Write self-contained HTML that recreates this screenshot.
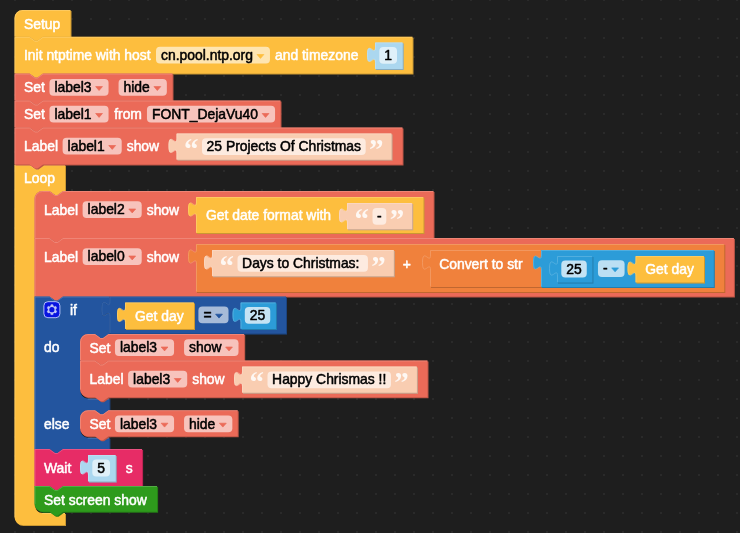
<!DOCTYPE html>
<html><head><meta charset="utf-8"><title>Blocks</title>
<style>
html,body{margin:0;padding:0;background:#1e1e1e;}
body{width:740px;height:533px;overflow:hidden;}
svg{display:block;filter:blur(0.4px);}
svg text{font-family:"Liberation Sans",sans-serif;font-size:13.9px;stroke-width:0.5px;stroke-linejoin:round;}
svg text.w{fill:#fff;stroke:#fff;}
svg text.k{fill:#000;stroke:#000;stroke-width:0.5px;}
svg text.q{font-family:"Liberation Serif",serif;font-weight:bold;font-size:29px;fill:#fff;fill-opacity:0.85;stroke:none;}
</style></head><body>
<svg width="740" height="533" viewBox="0 0 740 533">
<defs><pattern id="grid" width="19" height="19" patternUnits="userSpaceOnUse" x="5" y="-10"><rect x="9.2" y="9.2" width="1.6" height="1.6" fill="#303030"/></pattern></defs>
<rect width="740" height="533" fill="#1e1e1e"/>
<rect width="740" height="533" fill="url(#grid)"/>
<path d="M 14.5,164.5 H 29.5 l 5.5,4 2.5,0 5.5,-4 H 65 V 191 H 63 l -5.5,4 -2.5,0 -5.5,-4 H 42.5 a 8,8 0 0,0 -8,8 V 505 a 8,8 0 0,0 8,8 H 65 V 525 H 22.5 A 8,8 0 0,1 14.5,517 z" fill="#ca9832" transform="translate(1,1)"/>
<path d="M 14.5,164.5 H 29.5 l 5.5,4 2.5,0 5.5,-4 H 65 V 191 H 63 l -5.5,4 -2.5,0 -5.5,-4 H 42.5 a 8,8 0 0,0 -8,8 V 505 a 8,8 0 0,0 8,8 H 65 V 525 H 22.5 A 8,8 0 0,1 14.5,517 z" fill="#fdbe3e"/>
<path d="M 15,517 V 165 H 29.5 l 5.5,4 2.5,0 5.5,-4 H 64.5 M 42.5,513.5 H 64.5" fill="none" stroke="#fed278" stroke-opacity="0.6" stroke-width="1" stroke-linecap="round"/>
<text class="w" x="24" y="183">Loop</text>
<path d="M 14.5,18 A 8,8 0 0,1 22.5,10 H 70.5 V 36.8 H 43 l -5.5,4 -2.5,0 -5.5,-4 H 14.5 z" fill="#ca9832" transform="translate(1,1)"/>
<path d="M 14.5,18 A 8,8 0 0,1 22.5,10 H 70.5 V 36.8 H 43 l -5.5,4 -2.5,0 -5.5,-4 H 14.5 z" fill="#fdbe3e"/>
<path d="M 15,36.3 V 18 A 7.5,7.5 0 0,1 22.5,10.5 H 70" fill="none" stroke="#fed278" stroke-opacity="0.6" stroke-width="1" stroke-linecap="round"/>
<text class="w" x="24" y="28.5">Setup</text>
<path d="M 14.5,36.8 H 29.5 l 5.5,4 2.5,0 5.5,-4 H 412.5 V 73.6 H 43 l -5.5,4 -2.5,0 -5.5,-4 H 14.5 z" fill="#ca9832" transform="translate(1,1)"/>
<path d="M 14.5,36.8 H 29.5 l 5.5,4 2.5,0 5.5,-4 H 412.5 V 73.6 H 43 l -5.5,4 -2.5,0 -5.5,-4 H 14.5 z" fill="#fdbe3e"/>
<path d="M 15,73.1 V 37.3 H 29.5 l 5.5,4 2.5,0 5.5,-4 H 412" fill="none" stroke="#fed278" stroke-opacity="0.6" stroke-width="1" stroke-linecap="round"/>
<text class="w" x="24" y="60">Init ntptime with host</text>
<rect x="156" y="46.8" width="113.96" height="16.8" rx="4" ry="4" fill="#fff" fill-opacity="0.6"/>
<text class="k" x="161" y="59.8">cn.pool.ntp.org</text>
<path d="M 257.06,54.5 h 6.8 l -3.4,3.9 z" fill="#fdbe3e" stroke="#fdbe3e" stroke-width="0.7" stroke-linejoin="round"/>
<text class="w" x="274.96" y="60">and timezone</text>
<rect x="376" y="43.4" width="27.73" height="26.6" fill="#89acbf"/>
<path d="M 375,42.4 H 402.73 V 69 H 375 V 62.4 c 0,-10 -8,8 -8,-7.5 s 8,2.5 8,-7.5 z" fill="#abd7ef"/>
<path d="M 375.5,68.5 V 62.4 c 0,-10 -8,8 -8,-7.5 s 8,2.5 8,-7.5 V 42.9 H 402.23" fill="none" stroke="#c4e3f4" stroke-opacity="0.6" stroke-width="1"/>
<rect x="379.3" y="47" width="17.73" height="16.8" rx="4" ry="4" fill="#fff" fill-opacity="0.62"/>
<text class="k" x="384.3" y="60" style="white-space:pre">1</text>
<path d="M 14.5,73.6 H 29.5 l 5.5,4 2.5,0 5.5,-4 H 172.5 V 100.5 H 43 l -5.5,4 -2.5,0 -5.5,-4 H 14.5 z" fill="#bc5546" transform="translate(1,1)"/>
<path d="M 14.5,73.6 H 29.5 l 5.5,4 2.5,0 5.5,-4 H 172.5 V 100.5 H 43 l -5.5,4 -2.5,0 -5.5,-4 H 14.5 z" fill="#eb6a58"/>
<path d="M 15,100 V 74.1 H 29.5 l 5.5,4 2.5,0 5.5,-4 H 172" fill="none" stroke="#f1978a" stroke-opacity="0.6" stroke-width="1" stroke-linecap="round"/>
<text class="w" x="24" y="92.1">Set</text>
<rect x="49.46" y="78.9" width="59.1" height="16.8" rx="4" ry="4" fill="#fff" fill-opacity="0.6"/>
<text class="k" x="54.46" y="91.9">label3</text>
<path d="M 95.66,86.6 h 6.8 l -3.4,3.9 z" fill="#eb6a58" stroke="#eb6a58" stroke-width="0.7" stroke-linejoin="round"/>
<rect x="118.56" y="78.9" width="48.28" height="16.8" rx="4" ry="4" fill="#fff" fill-opacity="0.6"/>
<text class="k" x="123.56" y="91.9">hide</text>
<path d="M 153.94,86.6 h 6.8 l -3.4,3.9 z" fill="#eb6a58" stroke="#eb6a58" stroke-width="0.7" stroke-linejoin="round"/>
<path d="M 14.5,100.5 H 29.5 l 5.5,4 2.5,0 5.5,-4 H 280.5 V 127.5 H 43 l -5.5,4 -2.5,0 -5.5,-4 H 14.5 z" fill="#bc5546" transform="translate(1,1)"/>
<path d="M 14.5,100.5 H 29.5 l 5.5,4 2.5,0 5.5,-4 H 280.5 V 127.5 H 43 l -5.5,4 -2.5,0 -5.5,-4 H 14.5 z" fill="#eb6a58"/>
<path d="M 15,127 V 101 H 29.5 l 5.5,4 2.5,0 5.5,-4 H 280" fill="none" stroke="#f1978a" stroke-opacity="0.6" stroke-width="1" stroke-linecap="round"/>
<text class="w" x="24" y="119">Set</text>
<rect x="49.46" y="105.8" width="59.1" height="16.8" rx="4" ry="4" fill="#fff" fill-opacity="0.6"/>
<text class="k" x="54.46" y="118.8">label1</text>
<path d="M 95.66,113.5 h 6.8 l -3.4,3.9 z" fill="#eb6a58" stroke="#eb6a58" stroke-width="0.7" stroke-linejoin="round"/>
<text class="w" x="114.16" y="119">from</text>
<rect x="146.96" y="105.8" width="128.1" height="16.8" rx="4" ry="4" fill="#fff" fill-opacity="0.6"/>
<text class="k" x="151.96" y="118.8">FONT_DejaVu40</text>
<path d="M 262.16,113.5 h 6.8 l -3.4,3.9 z" fill="#eb6a58" stroke="#eb6a58" stroke-width="0.7" stroke-linejoin="round"/>
<path d="M 14.5,127.5 H 29.5 l 5.5,4 2.5,0 5.5,-4 H 402.5 V 164.5 H 43 l -5.5,4 -2.5,0 -5.5,-4 H 14.5 z" fill="#bc5546" transform="translate(1,1)"/>
<path d="M 14.5,127.5 H 29.5 l 5.5,4 2.5,0 5.5,-4 H 402.5 V 164.5 H 43 l -5.5,4 -2.5,0 -5.5,-4 H 14.5 z" fill="#eb6a58"/>
<path d="M 15,164 V 128 H 29.5 l 5.5,4 2.5,0 5.5,-4 H 402" fill="none" stroke="#f1978a" stroke-opacity="0.6" stroke-width="1" stroke-linecap="round"/>
<text class="w" x="24" y="151">Label</text>
<rect x="62.61" y="137.8" width="59.1" height="16.8" rx="4" ry="4" fill="#fff" fill-opacity="0.6"/>
<text class="k" x="67.61" y="150.8">label1</text>
<path d="M 108.81,145.5 h 6.8 l -3.4,3.9 z" fill="#eb6a58" stroke="#eb6a58" stroke-width="0.7" stroke-linejoin="round"/>
<text class="w" x="126.71" y="151">show</text>
<rect x="177.5" y="134.4" width="215.09" height="26.3" fill="#c7a48e"/>
<path d="M 176.5,133.4 H 391.59 V 159.7 H 176.5 V 153.4 c 0,-10 -8,8 -8,-7.5 s 8,2.5 8,-7.5 z" fill="#f9cdb1"/>
<path d="M 177,159.2 V 153.4 c 0,-10 -8,8 -8,-7.5 s 8,2.5 8,-7.5 V 133.9 H 391.09" fill="none" stroke="#fbdcc8" stroke-opacity="0.6" stroke-width="1"/>
<text class="q" x="184.1" y="159.2">“</text>
<rect x="202" y="138.3" width="163.69" height="16.8" rx="4" ry="4" fill="#fff" fill-opacity="0.6"/>
<text class="k" x="206.6" y="151.3" style="white-space:pre">25 Projects Of Christmas</text>
<text class="q" x="368.99" y="159.2">”</text>
<path d="M 34.5,199 A 8,8 0 0,1 42.5,191 H 49.5 l 5.5,4 2.5,0 5.5,-4 H 433.5 V 238 H 63 l -5.5,4 -2.5,0 -5.5,-4 H 34.5 z" fill="#bc5546" transform="translate(1,1)"/>
<path d="M 34.5,199 A 8,8 0 0,1 42.5,191 H 49.5 l 5.5,4 2.5,0 5.5,-4 H 433.5 V 238 H 63 l -5.5,4 -2.5,0 -5.5,-4 H 34.5 z" fill="#eb6a58"/>
<path d="M 35,237.5 V 199 A 7.5,7.5 0 0,1 42.5,191.5 H 49.5 l 5.5,4 2.5,0 5.5,-4 H 433" fill="none" stroke="#f1978a" stroke-opacity="0.6" stroke-width="1" stroke-linecap="round"/>
<text class="w" x="44" y="214.5">Label</text>
<rect x="82.61" y="201.3" width="59.1" height="16.8" rx="4" ry="4" fill="#fff" fill-opacity="0.6"/>
<text class="k" x="87.61" y="214.3">label2</text>
<path d="M 128.81,209 h 6.8 l -3.4,3.9 z" fill="#eb6a58" stroke="#eb6a58" stroke-width="0.7" stroke-linejoin="round"/>
<text class="w" x="146.71" y="214.5">show</text>
<rect x="197" y="198" width="227.5" height="36" fill="#ca9832"/>
<path d="M 196,197 H 423.5 V 233 H 196 V 217 c 0,-10 -8,8 -8,-7.5 s 8,2.5 8,-7.5 z" fill="#fdbe3e"/>
<path d="M 196.5,232.5 V 217 c 0,-10 -8,8 -8,-7.5 s 8,2.5 8,-7.5 V 197.5 H 423" fill="none" stroke="#fed278" stroke-opacity="0.6" stroke-width="1"/>
<text class="w" x="206" y="220.3">Get date format with</text>
<rect x="348" y="204" width="65.23" height="26.3" fill="#c7a48e"/>
<path d="M 347,203 H 412.23 V 229.3 H 347 V 223 c 0,-10 -8,8 -8,-7.5 s 8,2.5 8,-7.5 z" fill="#f9cdb1"/>
<path d="M 347.5,228.8 V 223 c 0,-10 -8,8 -8,-7.5 s 8,2.5 8,-7.5 V 203.5 H 411.73" fill="none" stroke="#fbdcc8" stroke-opacity="0.6" stroke-width="1"/>
<text class="q" x="354.6" y="228.8">“</text>
<rect x="372.5" y="207.9" width="13.83" height="16.8" rx="4" ry="4" fill="#fff" fill-opacity="0.6"/>
<text class="k" x="377.1" y="220.9" style="white-space:pre">-</text>
<text class="q" x="389.63" y="228.8">”</text>
<path d="M 34.5,238 H 49.5 l 5.5,4 2.5,0 5.5,-4 H 733.9 V 296.5 H 63 l -5.5,4 -2.5,0 -5.5,-4 H 34.5 z" fill="#bc5546" transform="translate(1,1)"/>
<path d="M 34.5,238 H 49.5 l 5.5,4 2.5,0 5.5,-4 H 733.9 V 296.5 H 63 l -5.5,4 -2.5,0 -5.5,-4 H 34.5 z" fill="#eb6a58"/>
<path d="M 35,296 V 238.5 H 49.5 l 5.5,4 2.5,0 5.5,-4 H 733.4" fill="none" stroke="#f1978a" stroke-opacity="0.6" stroke-width="1" stroke-linecap="round"/>
<text class="w" x="44" y="261.5">Label</text>
<rect x="82.61" y="248.3" width="59.1" height="16.8" rx="4" ry="4" fill="#fff" fill-opacity="0.6"/>
<text class="k" x="87.61" y="261.3">label0</text>
<path d="M 128.81,256 h 6.8 l -3.4,3.9 z" fill="#eb6a58" stroke="#eb6a58" stroke-width="0.7" stroke-linejoin="round"/>
<text class="w" x="146.71" y="261.5">show</text>
<rect x="197" y="245" width="528.3" height="48" fill="#c06730"/>
<path d="M 196,244 H 724.3 V 292 H 196 V 264 c 0,-10 -8,8 -8,-7.5 s 8,2.5 8,-7.5 z" fill="#f0813c"/>
<path d="M 196.5,291.5 V 264 c 0,-10 -8,8 -8,-7.5 s 8,2.5 8,-7.5 V 244.5 H 723.8" fill="none" stroke="#f4a776" stroke-opacity="0.6" stroke-width="1"/>
<rect x="213" y="251" width="181.86" height="26.3" fill="#c7a48e"/>
<path d="M 212,250 H 393.86 V 276.3 H 212 V 270 c 0,-10 -8,8 -8,-7.5 s 8,2.5 8,-7.5 z" fill="#f9cdb1"/>
<path d="M 212.5,275.8 V 270 c 0,-10 -8,8 -8,-7.5 s 8,2.5 8,-7.5 V 250.5 H 393.36" fill="none" stroke="#fbdcc8" stroke-opacity="0.6" stroke-width="1"/>
<text class="q" x="219.6" y="275.8">“</text>
<rect x="237.5" y="254.9" width="130.46" height="16.8" rx="4" ry="4" fill="#fff" fill-opacity="0.6"/>
<text class="k" x="242.1" y="267.9" style="white-space:pre">Days to Christmas: </text>
<text class="q" x="371.26" y="275.8">”</text>
<text class="w" x="402.86" y="268.5">+</text>
<rect x="431" y="251" width="111" height="37" fill="#c06730"/>
<path d="M 430,250 H 541 V 287 H 430 V 270 c 0,-10 -8,8 -8,-7.5 s 8,2.5 8,-7.5 z" fill="#f0813c"/>
<path d="M 430.5,286.5 V 270 c 0,-10 -8,8 -8,-7.5 s 8,2.5 8,-7.5 V 250.5 H 540.5" fill="none" stroke="#f4a776" stroke-opacity="0.6" stroke-width="1"/>
<text class="w" x="439.2" y="268.5">Convert to str</text>
<rect x="542" y="251" width="172.8" height="37" fill="#237dad"/>
<path d="M 541,250 H 713.8 V 287 H 541 V 270 c 0,-10 -8,8 -8,-7.5 s 8,2.5 8,-7.5 z" fill="#2c9cd8"/>
<path d="M 541.5,286.5 V 270 c 0,-10 -8,8 -8,-7.5 s 8,2.5 8,-7.5 V 250.5 H 713.3" fill="none" stroke="#6bbae4" stroke-opacity="0.6" stroke-width="1"/>
<rect x="558" y="257" width="35.46" height="26.6" fill="#237dad"/>
<path d="M 557,256 H 592.46 V 282.6 H 557 V 276 c 0,-10 -8,8 -8,-7.5 s 8,2.5 8,-7.5 z" fill="#2c9cd8"/>
<path d="M 557.5,282.1 V 276 c 0,-10 -8,8 -8,-7.5 s 8,2.5 8,-7.5 V 256.5 H 591.96" fill="none" stroke="#6bbae4" stroke-opacity="0.6" stroke-width="1"/>
<rect x="561.3" y="260.6" width="25.46" height="16.8" rx="4" ry="4" fill="#fff" fill-opacity="0.72"/>
<text class="k" x="566.3" y="273.6" style="white-space:pre">25</text>
<rect x="597.96" y="260.2" width="26.63" height="16.8" rx="4" ry="4" fill="#fff" fill-opacity="0.68"/>
<text class="k" x="602.96" y="273.2">-</text>
<path d="M 611.69,267.9 h 6.8 l -3.4,3.9 z" fill="#2c9cd8" stroke="#2c9cd8" stroke-width="0.7" stroke-linejoin="round"/>
<rect x="636.5" y="257" width="68.5" height="26.6" fill="#ca9832"/>
<path d="M 635.5,256 H 704 V 282.6 H 635.5 V 276 c 0,-10 -8,8 -8,-7.5 s 8,2.5 8,-7.5 z" fill="#fdbe3e"/>
<path d="M 636,282.1 V 276 c 0,-10 -8,8 -8,-7.5 s 8,2.5 8,-7.5 V 256.5 H 703.5" fill="none" stroke="#fed278" stroke-opacity="0.6" stroke-width="1"/>
<text class="w" x="645.2" y="274.3">Get day</text>
<path d="M 34.5,296.5 H 49.5 l 5.5,4 2.5,0 5.5,-4 H 109.4 V 301.5 c 0,10 -8,-8 -8,7.5 s 8,-2.5 8,7.5 V 334 H 108.5 l -5.5,4 -2.5,0 -5.5,-4 H 88 a 8,8 0 0,0 -8,8 V 390.6 a 8,8 0 0,0 8,8 H 109.4 V 410.2 H 108.5 l -5.5,4 -2.5,0 -5.5,-4 H 88 a 8,8 0 0,0 -8,8 V 429.7 a 8,8 0 0,0 8,8 H 109.4 V 449 H 63 l -5.5,4 -2.5,0 -5.5,-4 H 34.5 z" fill="#1c447f" transform="translate(1,1)"/>
<path d="M 34.5,296.5 H 49.5 l 5.5,4 2.5,0 5.5,-4 H 109.4 V 301.5 c 0,10 -8,-8 -8,7.5 s 8,-2.5 8,7.5 V 334 H 108.5 l -5.5,4 -2.5,0 -5.5,-4 H 88 a 8,8 0 0,0 -8,8 V 390.6 a 8,8 0 0,0 8,8 H 109.4 V 410.2 H 108.5 l -5.5,4 -2.5,0 -5.5,-4 H 88 a 8,8 0 0,0 -8,8 V 429.7 a 8,8 0 0,0 8,8 H 109.4 V 449 H 63 l -5.5,4 -2.5,0 -5.5,-4 H 34.5 z" fill="#23559f"/>
<path d="M 35,448.5 V 297 H 49.5 l 5.5,4 2.5,0 5.5,-4 H 108.9 M 88,399.1 H 108.9 M 88,438.2 H 108.9" fill="none" stroke="#6588bc" stroke-opacity="0.6" stroke-width="1" stroke-linecap="round"/>
<g transform="translate(43.4,301.2)"><rect x="0.5" y="0.5" width="16" height="16" rx="4" ry="4" fill="#0814e0" stroke="#c4ceff" stroke-opacity="0.9" stroke-width="1"/><path fill="#d4daf8" fill-opacity="0.9" stroke="#d4daf8" stroke-opacity="0.6" stroke-width="0.4" d="m4.203,7.296 0,1.368 -0.92,0.677 -0.11,0.41 0.9,1.559 0.41,0.11 1.043,-0.457 1.187,0.683 0.127,1.134 0.3,0.3 1.8,0 0.3,-0.299 0.127,-1.138 1.185,-0.682 1.046,0.458 0.409,-0.11 0.9,-1.559 -0.11,-0.41 -0.92,-0.677 0,-1.366 0.92,-0.677 0.11,-0.41 -0.9,-1.559 -0.409,-0.109 -1.046,0.458 -1.185,-0.682 -0.127,-1.138 -0.3,-0.299 -1.8,0 -0.3,0.3 -0.126,1.135 -1.187,0.682 -1.043,-0.457 -0.41,0.11 -0.899,1.559 0.108,0.409z" transform="translate(0.5,0.5)"/><circle cx="8.5" cy="8.5" r="2.6" fill="#0814e0"/></g>
<text class="w" x="70" y="315">if</text>
<text class="w" x="44" y="352.3">do</text>
<text class="w" x="44" y="428.5">else</text>
<rect x="110.4" y="297.5" width="176.6" height="37.1" fill="#1c447f"/>
<path d="M 109.4,296.5 H 286 V 333.6 H 109.4 V 316.5 c 0,-10 -8,8 -8,-7.5 s 8,2.5 8,-7.5 z" fill="#23559f"/>
<path d="M 109.9,333.1 V 316.5 c 0,-10 -8,8 -8,-7.5 s 8,2.5 8,-7.5 V 297 H 285.5" fill="none" stroke="#6588bc" stroke-opacity="0.3" stroke-width="1"/>
<rect x="126" y="303.4" width="69" height="26.6" fill="#ca9832"/>
<path d="M 125,302.4 H 194 V 329 H 125 V 322.4 c 0,-10 -8,8 -8,-7.5 s 8,2.5 8,-7.5 z" fill="#fdbe3e"/>
<path d="M 125.5,328.5 V 322.4 c 0,-10 -8,8 -8,-7.5 s 8,2.5 8,-7.5 V 302.9 H 193.5" fill="none" stroke="#fed278" stroke-opacity="0.6" stroke-width="1"/>
<text class="w" x="135" y="320.7">Get day</text>
<rect x="198.4" y="306.5" width="30.12" height="16.8" rx="4" ry="4" fill="#fff" fill-opacity="0.6"/>
<text class="k" x="203.4" y="319.5">=</text>
<path d="M 215.62,314.2 h 6.8 l -3.4,3.9 z" fill="#23559f" stroke="#23559f" stroke-width="0.7" stroke-linejoin="round"/>
<rect x="241.5" y="303.4" width="35.46" height="26.6" fill="#237dad"/>
<path d="M 240.5,302.4 H 275.96 V 329 H 240.5 V 322.4 c 0,-10 -8,8 -8,-7.5 s 8,2.5 8,-7.5 z" fill="#2c9cd8"/>
<path d="M 241,328.5 V 322.4 c 0,-10 -8,8 -8,-7.5 s 8,2.5 8,-7.5 V 302.9 H 275.46" fill="none" stroke="#6bbae4" stroke-opacity="0.6" stroke-width="1"/>
<rect x="244.8" y="307" width="25.46" height="16.8" rx="4" ry="4" fill="#fff" fill-opacity="0.72"/>
<text class="k" x="249.8" y="320" style="white-space:pre">25</text>
<path d="M 80,342 A 8,8 0 0,1 88,334 H 95 l 5.5,4 2.5,0 5.5,-4 H 244.2 V 360.5 H 108.5 l -5.5,4 -2.5,0 -5.5,-4 H 80 z" fill="#bc5546" transform="translate(1,1)"/>
<path d="M 80,342 A 8,8 0 0,1 88,334 H 95 l 5.5,4 2.5,0 5.5,-4 H 244.2 V 360.5 H 108.5 l -5.5,4 -2.5,0 -5.5,-4 H 80 z" fill="#eb6a58"/>
<path d="M 80.5,360 V 342 A 7.5,7.5 0 0,1 88,334.5 H 95 l 5.5,4 2.5,0 5.5,-4 H 243.7" fill="none" stroke="#f1978a" stroke-opacity="0.6" stroke-width="1" stroke-linecap="round"/>
<text class="w" x="89.5" y="352.5">Set</text>
<rect x="114.96" y="339.3" width="59.1" height="16.8" rx="4" ry="4" fill="#fff" fill-opacity="0.6"/>
<text class="k" x="119.96" y="352.3">label3</text>
<path d="M 161.16,347 h 6.8 l -3.4,3.9 z" fill="#eb6a58" stroke="#eb6a58" stroke-width="0.7" stroke-linejoin="round"/>
<rect x="184.06" y="339.3" width="54.45" height="16.8" rx="4" ry="4" fill="#fff" fill-opacity="0.6"/>
<text class="k" x="189.06" y="352.3">show</text>
<path d="M 225.61,347 h 6.8 l -3.4,3.9 z" fill="#eb6a58" stroke="#eb6a58" stroke-width="0.7" stroke-linejoin="round"/>
<path d="M 80,360.5 H 95 l 5.5,4 2.5,0 5.5,-4 H 427.5 V 397.2 H 108.5 l -5.5,4 -2.5,0 -5.5,-4 H 88 A 8,8 0 0,1 80,389.2 z" fill="#bc5546" transform="translate(1,1)"/>
<path d="M 80,360.5 H 95 l 5.5,4 2.5,0 5.5,-4 H 427.5 V 397.2 H 108.5 l -5.5,4 -2.5,0 -5.5,-4 H 88 A 8,8 0 0,1 80,389.2 z" fill="#eb6a58"/>
<path d="M 80.5,389.2 V 361 H 95 l 5.5,4 2.5,0 5.5,-4 H 427" fill="none" stroke="#f1978a" stroke-opacity="0.6" stroke-width="1" stroke-linecap="round"/>
<text class="w" x="89.5" y="384">Label</text>
<rect x="128.11" y="370.8" width="59.1" height="16.8" rx="4" ry="4" fill="#fff" fill-opacity="0.6"/>
<text class="k" x="133.11" y="383.8">label3</text>
<path d="M 174.31,378.5 h 6.8 l -3.4,3.9 z" fill="#eb6a58" stroke="#eb6a58" stroke-width="0.7" stroke-linejoin="round"/>
<text class="w" x="192.21" y="384">show</text>
<rect x="243" y="367.5" width="174.92" height="26.3" fill="#c7a48e"/>
<path d="M 242,366.5 H 416.92 V 392.8 H 242 V 386.5 c 0,-10 -8,8 -8,-7.5 s 8,2.5 8,-7.5 z" fill="#f9cdb1"/>
<path d="M 242.5,392.3 V 386.5 c 0,-10 -8,8 -8,-7.5 s 8,2.5 8,-7.5 V 367 H 416.42" fill="none" stroke="#fbdcc8" stroke-opacity="0.6" stroke-width="1"/>
<text class="q" x="249.6" y="392.3">“</text>
<rect x="267.5" y="371.4" width="123.52" height="16.8" rx="4" ry="4" fill="#fff" fill-opacity="0.6"/>
<text class="k" x="272.1" y="384.4" style="white-space:pre">Happy Chrismas !!</text>
<text class="q" x="394.32" y="392.3">”</text>
<path d="M 80,418.2 A 8,8 0 0,1 88,410.2 H 95 l 5.5,4 2.5,0 5.5,-4 H 237.7 V 436.3 H 108.5 l -5.5,4 -2.5,0 -5.5,-4 H 88 A 8,8 0 0,1 80,428.3 z" fill="#bc5546" transform="translate(1,1)"/>
<path d="M 80,418.2 A 8,8 0 0,1 88,410.2 H 95 l 5.5,4 2.5,0 5.5,-4 H 237.7 V 436.3 H 108.5 l -5.5,4 -2.5,0 -5.5,-4 H 88 A 8,8 0 0,1 80,428.3 z" fill="#eb6a58"/>
<path d="M 80.5,428.3 V 418.2 A 7.5,7.5 0 0,1 88,410.7 H 95 l 5.5,4 2.5,0 5.5,-4 H 237.2" fill="none" stroke="#f1978a" stroke-opacity="0.6" stroke-width="1" stroke-linecap="round"/>
<text class="w" x="89.5" y="428.7">Set</text>
<rect x="114.96" y="415.5" width="59.1" height="16.8" rx="4" ry="4" fill="#fff" fill-opacity="0.6"/>
<text class="k" x="119.96" y="428.5">label3</text>
<path d="M 161.16,423.2 h 6.8 l -3.4,3.9 z" fill="#eb6a58" stroke="#eb6a58" stroke-width="0.7" stroke-linejoin="round"/>
<rect x="184.06" y="415.5" width="48.28" height="16.8" rx="4" ry="4" fill="#fff" fill-opacity="0.6"/>
<text class="k" x="189.06" y="428.5">hide</text>
<path d="M 219.44,423.2 h 6.8 l -3.4,3.9 z" fill="#eb6a58" stroke="#eb6a58" stroke-width="0.7" stroke-linejoin="round"/>
<path d="M 34.5,449 H 49.5 l 5.5,4 2.5,0 5.5,-4 H 142.1 V 486 H 63 l -5.5,4 -2.5,0 -5.5,-4 H 34.5 z" fill="#b92352" transform="translate(1,1)"/>
<path d="M 34.5,449 H 49.5 l 5.5,4 2.5,0 5.5,-4 H 142.1 V 486 H 63 l -5.5,4 -2.5,0 -5.5,-4 H 34.5 z" fill="#e72c66"/>
<path d="M 35,485.5 V 449.5 H 49.5 l 5.5,4 2.5,0 5.5,-4 H 141.6" fill="none" stroke="#ee6b94" stroke-opacity="0.6" stroke-width="1" stroke-linecap="round"/>
<text class="w" x="44" y="472.5">Wait</text>
<rect x="89" y="456" width="27.73" height="26.6" fill="#89acbf"/>
<path d="M 88,455 H 115.73 V 481.6 H 88 V 475 c 0,-10 -8,8 -8,-7.5 s 8,2.5 8,-7.5 z" fill="#abd7ef"/>
<path d="M 88.5,481.1 V 475 c 0,-10 -8,8 -8,-7.5 s 8,2.5 8,-7.5 V 455.5 H 115.23" fill="none" stroke="#c4e3f4" stroke-opacity="0.6" stroke-width="1"/>
<rect x="92.3" y="459.6" width="17.73" height="16.8" rx="4" ry="4" fill="#fff" fill-opacity="0.62"/>
<text class="k" x="97.3" y="472.6" style="white-space:pre">5</text>
<text class="w" x="125.73" y="472.5">s</text>
<path d="M 34.5,486 H 49.5 l 5.5,4 2.5,0 5.5,-4 H 157.1 V 511.7 H 63 l -5.5,4 -2.5,0 -5.5,-4 H 42.5 A 8,8 0 0,1 34.5,503.7 z" fill="#257c16" transform="translate(1,1)"/>
<path d="M 34.5,486 H 49.5 l 5.5,4 2.5,0 5.5,-4 H 157.1 V 511.7 H 63 l -5.5,4 -2.5,0 -5.5,-4 H 42.5 A 8,8 0 0,1 34.5,503.7 z" fill="#2e9b1c"/>
<path d="M 35,503.7 V 486.5 H 49.5 l 5.5,4 2.5,0 5.5,-4 H 156.6" fill="none" stroke="#6db960" stroke-opacity="0.6" stroke-width="1" stroke-linecap="round"/>
<text class="w" x="44" y="504.5">Set screen show</text>
</svg>
</body></html>
